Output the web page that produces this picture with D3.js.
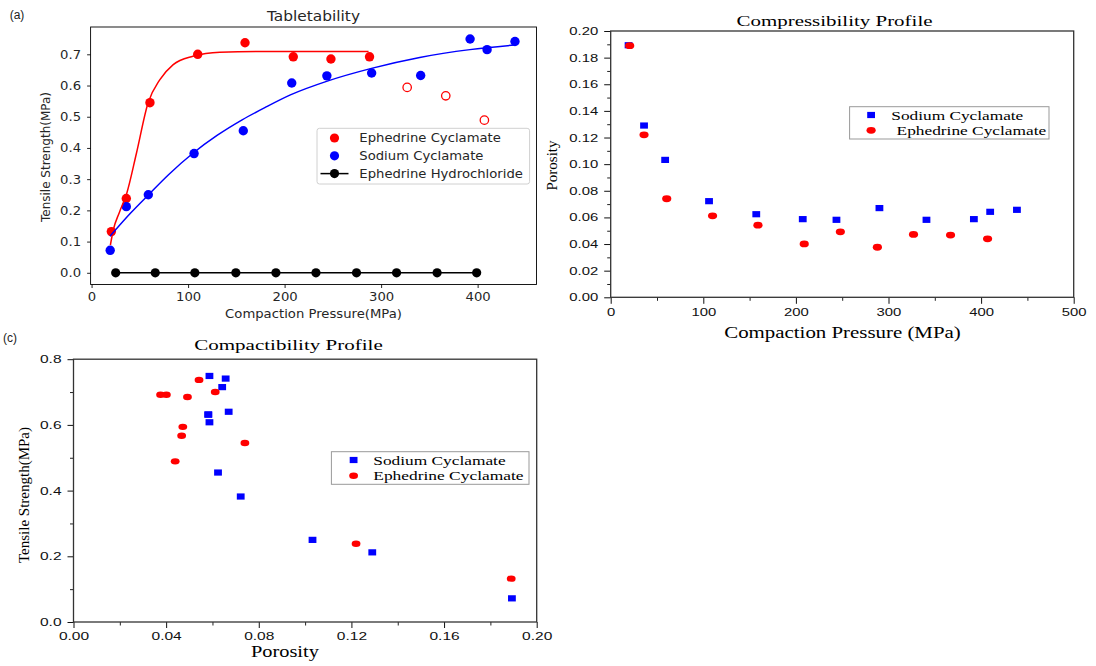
<!DOCTYPE html>
<html>
<head>
<meta charset="utf-8">
<script src="https://cdn.jsdelivr.net/npm/d3@7"></script>
<style>
body { margin: 0; background: #fff; }
svg { display: block; }
</style>
</head>
<body>
<svg id="svg" width="1096" height="666"></svg>
<script>
// values
var ecPressure = [20.5, 36, 60.5, 110, 159, 209, 248, 288, 327, 367, 407];
var ecTensile = [0.132, 0.238, 0.545, 0.700, 0.737, 0.692, 0.685, 0.692, 0.594, 0.567, 0.489];
var ecPorosity = [0.189, 0.122, 0.074, 0.0612, 0.0542, 0.0401, 0.0492, 0.0376, 0.0472, 0.0467, 0.0439];
var ecHollow = [false, false, false, false, false, false, false, false, true, true, true];

var scPressure = [19.3, 36, 58.8, 106.2, 157.2, 207.4, 243.8, 290.2, 341, 392.2, 409.8, 438.7];
var scTensile = [0.072, 0.212, 0.250, 0.382, 0.455, 0.608, 0.631, 0.640, 0.632, 0.749, 0.715, 0.741];
var scPorosity = [0.1893, 0.129, 0.1032, 0.0722, 0.0624, 0.0587, 0.0582, 0.0670, 0.0582, 0.0587, 0.0642, 0.0657];

var ehPressure = [25, 66, 107, 149.5, 191, 232.5, 274.5, 316, 358, 399];
var ehTensile = [0, 0, 0, 0, 0, 0, 0, 0, 0, 0];

// fitted curves, read point by point
var ecFitPressure = [19.5, 22.5, 29, 36.5, 46.5, 58.5, 70.8, 84.6, 105, 133, 180, 240, 287];
var ecFitTensile = [0.089, 0.137, 0.195, 0.255, 0.383, 0.544, 0.619, 0.667, 0.694, 0.707, 0.709, 0.709, 0.709];
var scFitPressure = [19, 40, 59, 80, 105, 130, 156, 180, 206, 245, 290, 340, 392, 439];
var scFitTensile = [0.117, 0.19, 0.25, 0.315, 0.383, 0.44, 0.49, 0.53, 0.57, 0.615, 0.655, 0.69, 0.715, 0.73];

// ticks
var pressureTicksA = [0, 100, 200, 300, 400];
var tensileTicksA = [0, 0.1, 0.2, 0.3, 0.4, 0.5, 0.6, 0.7];
var pressureTicksB = [0, 100, 200, 300, 400, 500];
var pressureMinorB = [50, 150, 250, 350, 450];
var porosityTicksB = [0, 0.02, 0.04, 0.06, 0.08, 0.10, 0.12, 0.14, 0.16, 0.18, 0.20];
var porosityMinorB = [0.01, 0.03, 0.05, 0.07, 0.09, 0.11, 0.13, 0.15, 0.17, 0.19];
var porosityTicksC = [0, 0.04, 0.08, 0.12, 0.16, 0.20];
var porosityMinorC = [0.02, 0.06, 0.10, 0.14, 0.18];
var tensileTicksC = [0, 0.2, 0.4, 0.6, 0.8];
var tensileMinorC = [0.1, 0.3, 0.5, 0.7];

var svg = d3.select("#svg");
var SANS_A = "'DejaVu Sans', sans-serif";
var SANS = "'Liberation Sans', Arial, sans-serif";
var SERIF = "'Liberation Serif', 'Times New Roman', serif";

function addText(x, y, str, o) {
  var tr = "translate(" + x + "," + y + ")" + (o.rotate ? " rotate(-90)" : "");
  if (o.sx) tr += " scale(" + o.sx + ",1)";
  var t = svg.append("text")
    .attr("transform", tr)
    .attr("text-anchor", o.anchor || "middle")
    .attr("font-family", o.family)
    .attr("font-size", o.size)
    .attr("fill", o.color || "#000")
    .text(str);
  if (o.width) t.attr("textLength", o.width).attr("lengthAdjust", "spacingAndGlyphs");
  return t;
}

function styleAxis(g, family, size, sx, color) {
  g.select(".domain").remove();
  g.selectAll(".tick line").attr("stroke", color);
  g.selectAll(".tick text")
    .attr("font-family", family)
    .attr("font-size", size)
    .attr("fill", color)
    .each(function () {
      var t = d3.select(this);
      t.attr("x", (+t.attr("x") || 0) / sx).attr("transform", "scale(" + sx + ",1)");
    });
}

function minorAxis(g, axis) {
  g.call(axis.tickFormat(""));
  g.select(".domain").remove();
  g.selectAll(".tick line").attr("stroke", "#222");
}

var line = function (xs, ys) {
  return d3.line()
    .x(function (d) { return xs(d[0]); })
    .y(function (d) { return ys(d[1]); })
    .curve(d3.curveMonotoneX);
};

// ---------- (a) Tabletability ----------
var A = {left: 90.6, right: 536.5, top: 27, bottom: 284.5};
var xA = d3.scaleLinear().domain([-1, 461]).range([A.left, A.right]);
var yA = d3.scaleLinear().domain([-0.0375, 0.7875]).range([A.bottom, A.top]);
var gA = svg.append("g");

gA.append("g")
  .attr("transform", "translate(0," + A.bottom + ")")
  .call(d3.axisBottom(xA).tickValues(pressureTicksA).tickSize(3.5).tickPadding(4.5).tickFormat(d3.format("d")))
  .call(styleAxis, SANS_A, 12, 1.1, "#262626");
gA.append("g")
  .attr("transform", "translate(" + A.left + ",0)")
  .call(d3.axisLeft(yA).tickValues(tensileTicksA).tickSize(3.5).tickPadding(6).tickFormat(d3.format(".1f")))
  .call(styleAxis, SANS_A, 12, 1.1, "#262626");

gA.append("path")
  .datum(d3.zip(ehPressure, ehTensile))
  .attr("fill", "none").attr("stroke", "#000").attr("stroke-width", 1.5)
  .attr("d", line(xA, yA));
gA.selectAll(".eh").data(d3.zip(ehPressure, ehTensile)).enter().append("circle")
  .attr("cx", function (d) { return xA(d[0]); })
  .attr("cy", function (d) { return yA(d[1]); })
  .attr("r", 4.6).attr("fill", "#000");

gA.selectAll(".ec").data(d3.zip(ecPressure, ecTensile, ecHollow)).enter().append("circle")
  .attr("cx", function (d) { return xA(d[0]); })
  .attr("cy", function (d) { return yA(d[1]); })
  .attr("r", function (d) { return d[2] ? 4.2 : 4.7; })
  .attr("fill", function (d) { return d[2] ? "none" : "#ff0000"; })
  .attr("stroke", function (d) { return d[2] ? "#ff0000" : "none"; })
  .attr("stroke-width", 1.3);
gA.selectAll(".sc").data(d3.zip(scPressure, scTensile)).enter().append("circle")
  .attr("cx", function (d) { return xA(d[0]); })
  .attr("cy", function (d) { return yA(d[1]); })
  .attr("r", 4.7).attr("fill", "#0000ff");

gA.append("path")
  .datum(d3.zip(ecFitPressure, ecFitTensile))
  .attr("fill", "none").attr("stroke", "#ff0000").attr("stroke-width", 1.5)
  .attr("d", line(xA, yA));
gA.append("path")
  .datum(d3.zip(scFitPressure, scFitTensile))
  .attr("fill", "none").attr("stroke", "#0000ff").attr("stroke-width", 1.5)
  .attr("d", line(xA, yA));

gA.append("rect")
  .attr("x", A.left).attr("y", A.top)
  .attr("width", A.right - A.left).attr("height", A.bottom - A.top)
  .attr("fill", "none").attr("stroke", "#000").attr("stroke-width", 0.9);

// legend (a)
var legA = [
  {name: "Ephedrine Cyclamate", color: "#ff0000", line: false},
  {name: "Sodium Cyclamate", color: "#0000ff", line: false},
  {name: "Ephedrine Hydrochloride", color: "#000", line: true}
];
gA.append("rect")
  .attr("x", 317).attr("y", 128.3).attr("width", 212.6).attr("height", 55.7)
  .attr("rx", 2.5).attr("fill", "#fff").attr("fill-opacity", 0.8)
  .attr("stroke", "#d0d0d0").attr("stroke-width", 1);
legA.forEach(function (d, i) {
  var cy = 138 + i * 17.8;
  if (d.line) {
    gA.append("line").attr("x1", 320.5).attr("x2", 348.5).attr("y1", cy).attr("y2", cy)
      .attr("stroke", d.color).attr("stroke-width", 1.5);
  }
  gA.append("circle").attr("cx", 334.5).attr("cy", cy).attr("r", 4.6).attr("fill", d.color);
  addText(359.3, cy + 4.3, d.name, {family: SANS_A, size: 12, anchor: "start", sx: 1.1, color: "#262626"});
});

addText(17, 19, "(a)", {family: SANS, size: 12, color: "#222"});
addText(313.5, 21, "Tabletability", {family: SANS_A, size: 14, sx: 1.1, color: "#262626"});
addText(313.5, 318, "Compaction Pressure(MPa)", {family: SANS_A, size: 12, sx: 1.1, color: "#262626"});
addText(50, 157, "Tensile Strength(MPa)", {family: SANS_A, size: 12, rotate: true, color: "#262626"});

// ---------- (b) Compressibility Profile ----------
var B = {left: 610.7, right: 1073.7, top: 31, bottom: 297.3};
var xB = d3.scaleLinear().domain([0, 500]).range([B.left, B.right]);
var yB = d3.scaleLinear().domain([0, 0.2]).range([B.bottom, B.top]);
var gB = svg.append("g");

gB.append("g").attr("transform", "translate(0," + B.bottom + ")")
  .call(minorAxis, d3.axisBottom(xB).tickValues(pressureMinorB).tickSize(3.5));
gB.append("g").attr("transform", "translate(" + B.left + ",0)")
  .call(minorAxis, d3.axisLeft(yB).tickValues(porosityMinorB).tickSize(3.5));
gB.append("g").attr("transform", "translate(0," + B.bottom + ")")
  .call(d3.axisBottom(xB).tickValues(pressureTicksB).tickSize(6.5).tickPadding(4).tickFormat(d3.format("d")))
  .call(styleAxis, SANS, 11, 1.35, "#111");
gB.append("g").attr("transform", "translate(" + B.left + ",0)")
  .call(d3.axisLeft(yB).tickValues(porosityTicksB).tickSize(6.5).tickPadding(6).tickFormat(d3.format(".2f")))
  .call(styleAxis, SANS, 11, 1.35, "#111");

gB.selectAll(".scb").data(d3.zip(scPressure, scPorosity)).enter().append("rect")
  .attr("x", function (d) { return xB(d[0]) - 3.9; })
  .attr("y", function (d) { return yB(d[1]) - 3.1; })
  .attr("width", 7.8).attr("height", 6.2).attr("fill", "#0000ff");
gB.selectAll(".ecb").data(d3.zip(ecPressure, ecPorosity)).enter().append("ellipse")
  .attr("cx", function (d) { return xB(d[0]); })
  .attr("cy", function (d) { return yB(d[1]); })
  .attr("rx", 4.6).attr("ry", 3.4).attr("fill", "#ff0000");

gB.append("rect")
  .attr("x", B.left).attr("y", B.top)
  .attr("width", B.right - B.left).attr("height", B.bottom - B.top)
  .attr("fill", "none").attr("stroke", "#333").attr("stroke-width", 1.3);

gB.append("rect")
  .attr("x", 849.6).attr("y", 106.7).attr("width", 199.4).attr("height", 32.3)
  .attr("fill", "#fff").attr("stroke", "#999").attr("stroke-width", 1);
gB.append("rect").attr("x", 871.1 - 3.9).attr("y", 115 - 3.1).attr("width", 7.8).attr("height", 6.2).attr("fill", "#0000ff");
gB.append("ellipse").attr("cx", 871.1).attr("cy", 130.3).attr("rx", 4.6).attr("ry", 3.4).attr("fill", "#ff0000");
addText(891.3, 119.5, "Sodium Cyclamate", {family: SERIF, size: 13, anchor: "start", width: 132});
addText(896.6, 134.8, "Ephedrine Cyclamate", {family: SERIF, size: 13, anchor: "start", width: 149.6});

addText(834.5, 26, "Compressibility Profile", {family: SERIF, size: 15, width: 196});
addText(842.5, 337.5, "Compaction Pressure (MPa)", {family: SERIF, size: 16, width: 236.5});
addText(557, 165.5, "Porosity", {family: SERIF, size: 15, rotate: true});

// ---------- (c) Compactibility Profile ----------
var C = {left: 73.5, right: 536.7, top: 359.2, bottom: 622};
var xC = d3.scaleLinear().domain([0, 0.2]).range([C.left, C.right]);
var yC = d3.scaleLinear().domain([0, 0.8]).range([C.bottom, C.top]);
var gC = svg.append("g");

gC.append("g").attr("transform", "translate(0," + C.bottom + ")")
  .call(minorAxis, d3.axisBottom(xC).tickValues(porosityMinorC).tickSize(3.5));
gC.append("g").attr("transform", "translate(" + C.left + ",0)")
  .call(minorAxis, d3.axisLeft(yC).tickValues(tensileMinorC).tickSize(3.5));
gC.append("g").attr("transform", "translate(0," + C.bottom + ")")
  .call(d3.axisBottom(xC).tickValues(porosityTicksC).tickSize(6).tickPadding(3.5).tickFormat(d3.format(".2f")))
  .call(styleAxis, SANS, 11.5, 1.35, "#111");
gC.append("g").attr("transform", "translate(" + C.left + ",0)")
  .call(d3.axisLeft(yC).tickValues(tensileTicksC).tickSize(6).tickPadding(6).tickFormat(d3.format(".1f")))
  .call(styleAxis, SANS, 11.5, 1.35, "#111");

gC.selectAll(".scc").data(d3.zip(scPorosity, scTensile)).enter().append("rect")
  .attr("x", function (d) { return xC(d[0]) - 3.9; })
  .attr("y", function (d) { return yC(d[1]) - 3.1; })
  .attr("width", 7.8).attr("height", 6.2).attr("fill", "#0000ff");
gC.selectAll(".ecc").data(d3.zip(ecPorosity, ecTensile)).enter().append("ellipse")
  .attr("cx", function (d) { return xC(d[0]); })
  .attr("cy", function (d) { return yC(d[1]); })
  .attr("rx", 4.4).attr("ry", 3.2).attr("fill", "#ff0000");

gC.append("rect")
  .attr("x", C.left).attr("y", C.top)
  .attr("width", C.right - C.left).attr("height", C.bottom - C.top)
  .attr("fill", "none").attr("stroke", "#333").attr("stroke-width", 1.3);

gC.append("rect")
  .attr("x", 331.4).attr("y", 451.7).attr("width", 197.6).attr("height", 32.6)
  .attr("fill", "#fff").attr("stroke", "#999").attr("stroke-width", 1);
gC.append("rect").attr("x", 353.6 - 3.9).attr("y", 460 - 3.1).attr("width", 7.8).attr("height", 6.2).attr("fill", "#0000ff");
gC.append("ellipse").attr("cx", 353.6).attr("cy", 475.7).attr("rx", 4.4).attr("ry", 3.2).attr("fill", "#ff0000");
addText(373.3, 464.5, "Sodium Cyclamate", {family: SERIF, size: 13, anchor: "start", width: 132.3});
addText(373.3, 480.2, "Ephedrine Cyclamate", {family: SERIF, size: 13, anchor: "start", width: 150.2});

addText(10, 342, "(c)", {family: SANS, size: 12, color: "#222"});
addText(288.5, 350, "Compactibility Profile", {family: SERIF, size: 15, width: 188.5});
addText(284.9, 657, "Porosity", {family: SERIF, size: 16, width: 68});
addText(29, 495, "Tensile Strength(MPa)", {family: SERIF, size: 15, rotate: true});
</script>
</body>
</html>
